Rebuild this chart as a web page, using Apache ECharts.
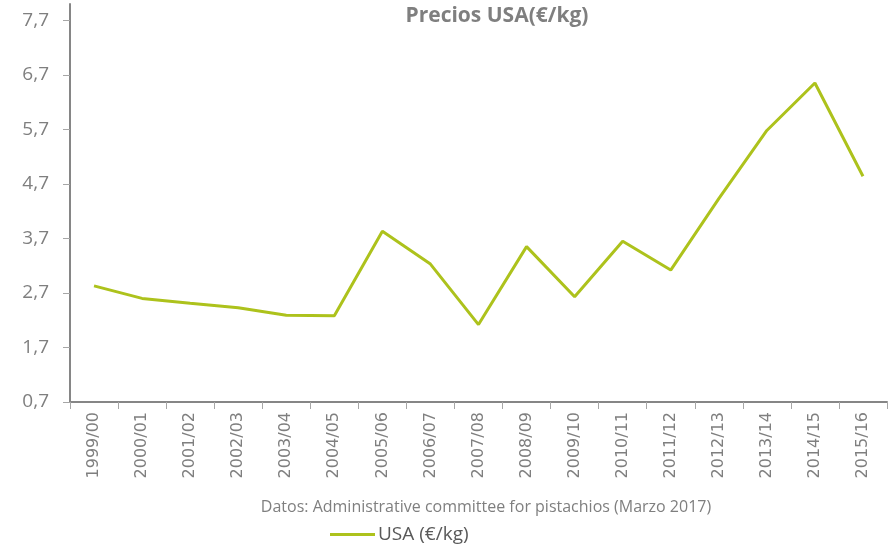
<!DOCTYPE html>
<html>
<head>
<meta charset="utf-8">
<script src="https://cdn.jsdelivr.net/npm/echarts@6/dist/echarts.min.js"></script>
<style>
  html, body { margin: 0; padding: 0; background: #fff; }
  #grafico_usa { width: 895px; height: 547px; }
</style>
</head>
<body>
<div id="grafico_usa"></div>
<script>
var campanas = ['1999/00', '2000/01', '2001/02', '2002/03', '2003/04', '2004/05', '2005/06', '2006/07',
  '2007/08', '2008/09', '2009/10', '2010/11', '2011/12', '2012/13', '2013/14', '2014/15', '2015/16'];
var preciosUSA = [2.83, 2.60, 2.51, 2.43, 2.29, 2.28, 3.83, 3.23, 2.12, 3.55, 2.63, 3.65, 3.12, 4.43, 5.68, 6.55, 4.84];
var ticksY = [0.7, 1.7, 2.7, 3.7, 4.7, 5.7, 6.7, 7.7];

function drawGrafico () {

  var chartDom = document.getElementById('grafico_usa');
  var myChart = echarts.init(chartDom);
  var option;

  var gris = '#7f7f7f';

  option = {
    animation: false,
    title: [
      {
        text: 'Precios USA(€/kg)',
        left: 492,
        top: 1,
        textAlign: 'center',
        textStyle: { color: gris, fontSize: 21, fontWeight: 'bold', fontFamily: 'Open Sans' }
      },
      {
        text: 'Datos: Administrative committee for pistachios (Marzo 2017)',
        left: 481,
        top: 494,
        textAlign: 'center',
        textStyle: { color: gris, fontSize: 16, fontWeight: 'normal', fontFamily: 'Open Sans' }
      }
    ],
    legend: {
      data: ['USA (€/kg)'],
      left: 325,
      top: 520,
      itemWidth: 45,
      itemHeight: 3,
      itemGap: 4,
      icon: 'rect',
      textStyle: { color: '#595959', fontSize: 19, fontFamily: 'Open Sans', padding: [0, 0, 0, -2] }
    },
    grid: {
      left: 70,
      right: 8,
      top: 4,
      bottom: 145,
      containLabel: false
    },
    xAxis: {
      type: 'category',
      data: campanas,
      boundaryGap: true,
      axisLine: { lineStyle: { color: '#868686', width: 2 } },
      axisTick: { show: true, length: 7, lineStyle: { color: '#a6a6a6' } },
      axisLabel: {
        rotate: 90,
        interval: 0,
        margin: 10,
        color: gris,
        fontSize: 16,
        fontFamily: 'DejaVu Sans'
      }
    },
    yAxis: {
      type: 'value',
      min: 0.7,
      max: 8.0,
      axisLine: { show: true, lineStyle: { color: '#868686', width: 2 } },
      axisTick: { show: true, length: 7, customValues: ticksY, lineStyle: { color: '#a6a6a6' } },
      splitLine: { show: false },
      axisLabel: {
        customValues: ticksY,
        margin: 21,
        color: gris,
        fontSize: 19,
        fontFamily: 'Open Sans',
        formatter: function (v) { return v.toFixed(1).replace('.', ','); }
      }
    },
    series: [
      {
        name: 'USA (€/kg)',
        type: 'line',
        data: preciosUSA,
        symbol: 'none',
        itemStyle: { color: '#adc21c' },
        lineStyle: { color: '#adc21c', width: 3 }
      }
    ]
  };

  option && myChart.setOption(option);

}

drawGrafico()
</script>
</body>
</html>
